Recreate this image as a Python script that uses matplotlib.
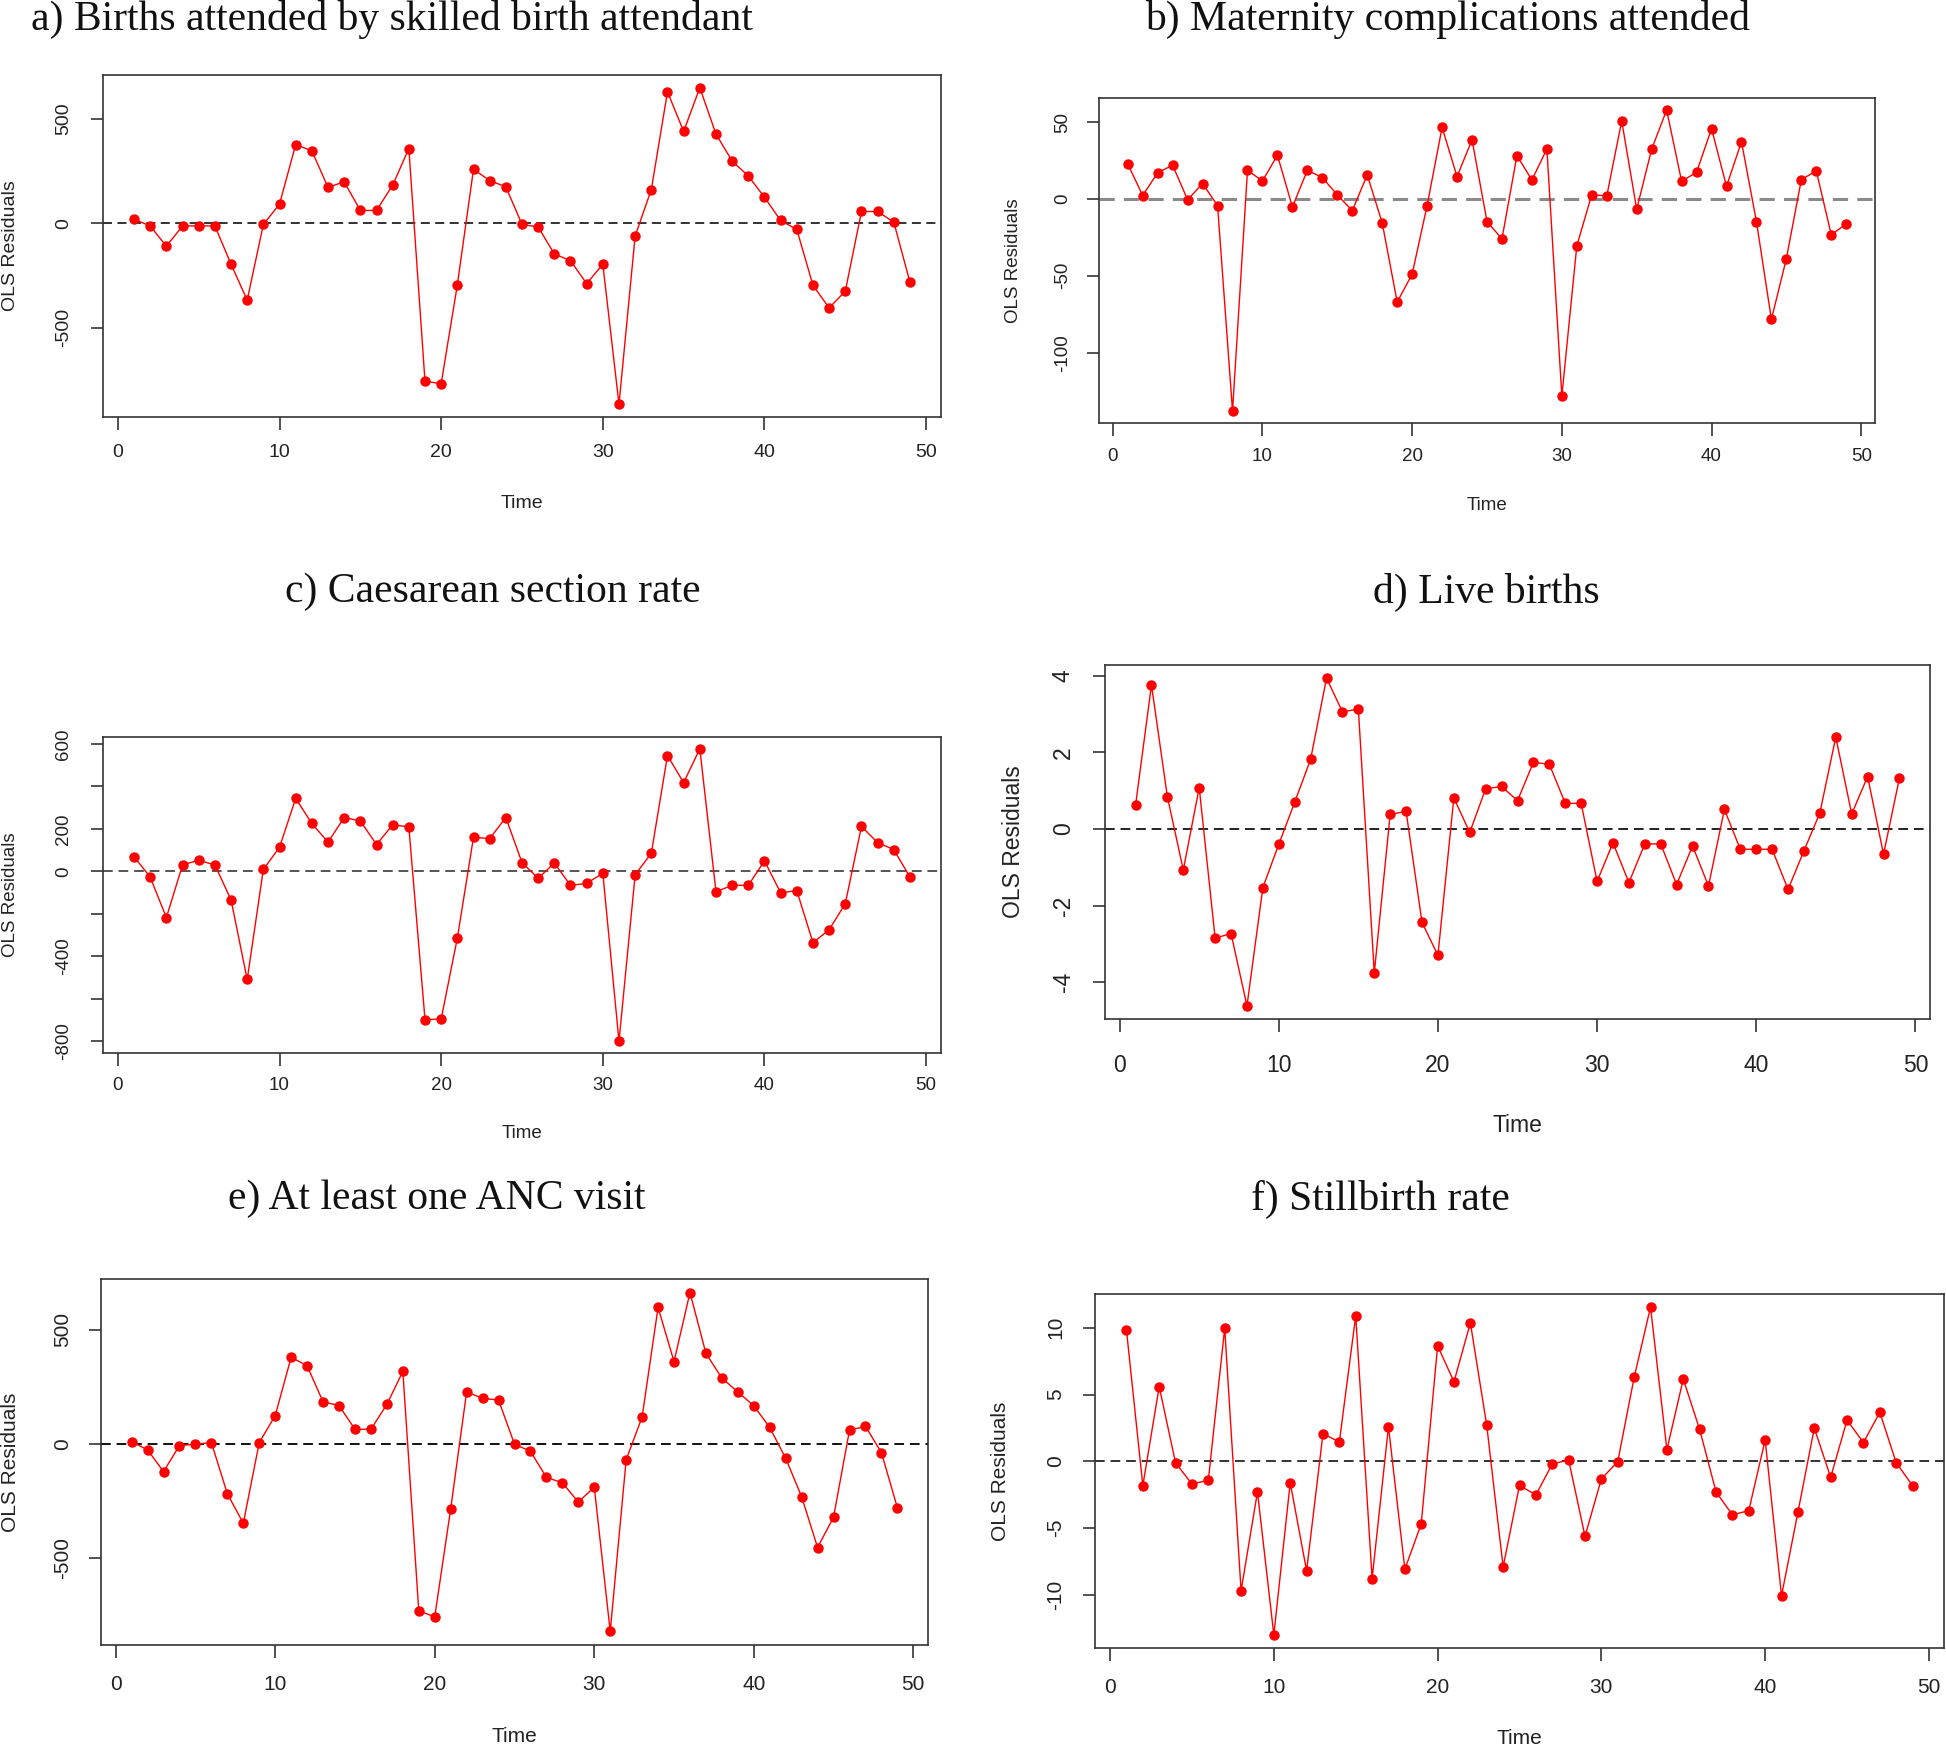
import matplotlib
matplotlib.use("Agg")
import matplotlib.pyplot as plt

# residual series, t = 1..49
time = list(range(1, 50))

births = [19, -13, -110, -13, -13, -13, -196, -368, -6, 91,
          376, 346, 171, 198, 61, 61, 182, 357, -756, -767,
          -295, 258, 204, 174, -6, -18, -147, -179, -289, -196,
          -866, -61, 161, 628, 439, 648, 426, 297, 226, 124,
          13, -30, -297, -405, -325, 56, 56, 5, -282]

complications = [22.7, 2.2, 17.1, 21.9, -0.6, 10.0, -4.3, -137.9, 18.6, 11.7,
                 28.4, -5.2, 18.6, 13.9, 2.6, -7.6, 15.6, -15.6, -67.1, -48.9,
                 -4.3, 46.5, 14.5, 38.5, -14.7, -26.0, 28.2, 12.3, 32.5, -128.2,
                 -30.5, 2.8, 1.9, 50.7, -6.7, 32.3, 57.8, 11.5, 17.3, 45.7,
                 8.2, 37.2, -14.7, -78.4, -38.8, 12.6, 18.2, -23.4, -16.2]

caesarean = [69, -27, -218, 30, 52, 30, -134, -509, 9, 113,
             343, 225, 137, 253, 237, 126, 219, 209, -698, -695,
             -314, 160, 154, 253, 41, -33, 39, -66, -57, -9,
             -800, -16, 85, 545, 417, 577, -96, -66, -66, 49,
             -101, -91, -336, -275, -152, 211, 135, 102, -27]

live = [0.62, 3.76, 0.84, -1.07, 1.08, -2.85, -2.73, -4.62, -1.53, -0.40,
        0.70, 1.82, 3.94, 3.06, 3.13, -3.76, 0.38, 0.46, -2.44, -3.30,
        0.81, -0.09, 1.05, 1.11, 0.74, 1.74, 1.69, 0.67, 0.67, -1.37,
        -0.36, -1.40, -0.39, -0.39, -1.45, -0.44, -1.49, 0.51, -0.53, -0.53,
        -0.53, -1.58, -0.57, 0.42, 2.40, 0.39, 1.37, -0.66, 1.33]

anc = [10, -26, -121, -7, -1, 6, -218, -347, 6, 124,
       379, 342, 184, 168, 64, 64, 173, 317, -730, -756,
       -284, 228, 199, 192, -1, -32, -146, -170, -254, -189,
       -820, -69, 118, 597, 360, 662, 396, 288, 227, 167,
       72, -63, -231, -453, -320, 60, 77, -38, -279]

stillbirth = [9.85, -1.82, 5.59, -0.12, -1.70, -1.42, 9.98, -9.70, -2.29, -13.0,
              -1.60, -8.20, 2.07, 1.45, 10.9, -8.80, 2.59, -8.08, -4.69, 8.65,
              5.96, 10.37, 2.69, -7.91, -1.80, -2.52, -0.20, 0.10, -5.61, -1.32,
              -0.02, 6.28, 11.55, 0.87, 6.16, 2.39, -2.29, -4.01, -3.69, 1.60,
              -10.07, -3.82, 2.49, -1.20, 3.09, 1.40, 3.67, -0.10, -1.82]

titles = ["a) Births attended by skilled birth attendant",
          "b) Maternity complications attended",
          "c) Caesarean section rate",
          "d) Live births",
          "e) At least one ANC visit",
          "f) Stillbirth rate"]

xticks = [0, 10, 20, 30, 40, 50]
yticks = [[-500, 0, 500],
          [-100, -50, 0, 50],
          [-800, -600, -400, -200, 0, 200, 400, 600],
          [-4, -2, 0, 2, 4],
          [-500, 0, 500],
          [-10, -5, 0, 5, 10]]
ylabels = [["-500", "0", "500"],
           ["-100", "-50", "0", "50"],
           ["-800", "", "-400", "", "0", "200", "", "600"],
           ["-4", "-2", "0", "2", "4"],
           ["-500", "0", "500"],
           ["-10", "-5", "0", "5", "10"]]

W, H = 1946, 1747
fig = plt.figure(figsize=(W / 100, H / 100), dpi=100)
plt.rcParams['font.family'] = ['Liberation Sans', 'DejaVu Sans']


def px(x, y):
    return x / W, 1 - y / H


# layout in pixels: axes box (l, t, r, b), title centre, label offsets
panels = [
    dict(y=births, box=(103, 75, 941, 417), title=(392, 19), ytl=41, ols=92, xtl=37, tl=87, fs=14, zc='#222222', zw=1.3),
    dict(y=complications, box=(1099, 98, 1875, 423), title=(1448, 19), ytl=38, ols=85, xtl=35, tl=83, fs=13.5, zc='#8a8a8a', zw=2.2),
    dict(y=caesarean, box=(103, 737, 941, 1053), title=(493, 592), ytl=41, ols=92, xtl=34, tl=80, fs=13.5, zc='#555555', zw=1.4),
    dict(y=live, box=(1105, 665, 1930, 1019), title=(1486, 592), ytl=40, ols=91, xtl=45, tl=107, fs=16.5, zc='#222222', zw=1.4),
    dict(y=anc, box=(101, 1279, 928, 1645), title=(437, 1199), ytl=39, ols=90, xtl=40, tl=92, fs=15, zc='#111111', zw=1.4),
    dict(y=stillbirth, box=(1095, 1294, 1944, 1648), title=(1380, 1199), ytl=40, ols=95, xtl=40, tl=91, fs=15, zc='#333333', zw=1.4),
]

for i, p in enumerate(panels):
    l, t, r, b = p['box']
    ax = fig.add_axes([l / W, 1 - b / H, (r - l) / W, (b - t) / H])
    ax.plot(time, p['y'], color='red', lw=1.0, marker='o', ms=6.5, zorder=3)
    ax.axhline(0, color=p['zc'], lw=p['zw'], ls=(0, (5, 3)), zorder=2)
    ax.margins(x=0.04, y=0.04)
    ax.set_xticks(xticks)
    ax.set_yticks(yticks[i])
    ax.set_yticklabels(ylabels[i], rotation=90, va='center')
    for s in ax.spines.values():
        s.set_linewidth(1.2)
        s.set_color('#333333')
    tlen = 9
    ax.tick_params(direction='out', length=tlen, width=1.2, color='#333333',
                   labelsize=p['fs'], labelcolor='#222222')
    # tick label offsets in pixels -> points
    ax.tick_params(axis='x', pad=(p['xtl'] - 10 - 12.5) * 0.72)
    ax.tick_params(axis='y', pad=(p['ytl'] - 10 - 12.5) * 0.72)

    x0, y0 = px((l + r) / 2, b + p['tl'])
    fig.text(x0, y0, "Time", ha='center', va='center', fontsize=p['fs'], color='#222222')
    x1, y1 = px(l - p['ols'], (t + b) / 2)
    fig.text(x1, y1, "OLS Residuals", ha='center', va='center', rotation=90,
             fontsize=p['fs'], color='#222222')
    x2, y2 = px(*p['title'])
    fig.text(x2, y2, titles[i], ha='center', va='center', fontsize=30,
             family='Liberation Serif', color='#111111')

fig.savefig("out.png", dpi=100)
